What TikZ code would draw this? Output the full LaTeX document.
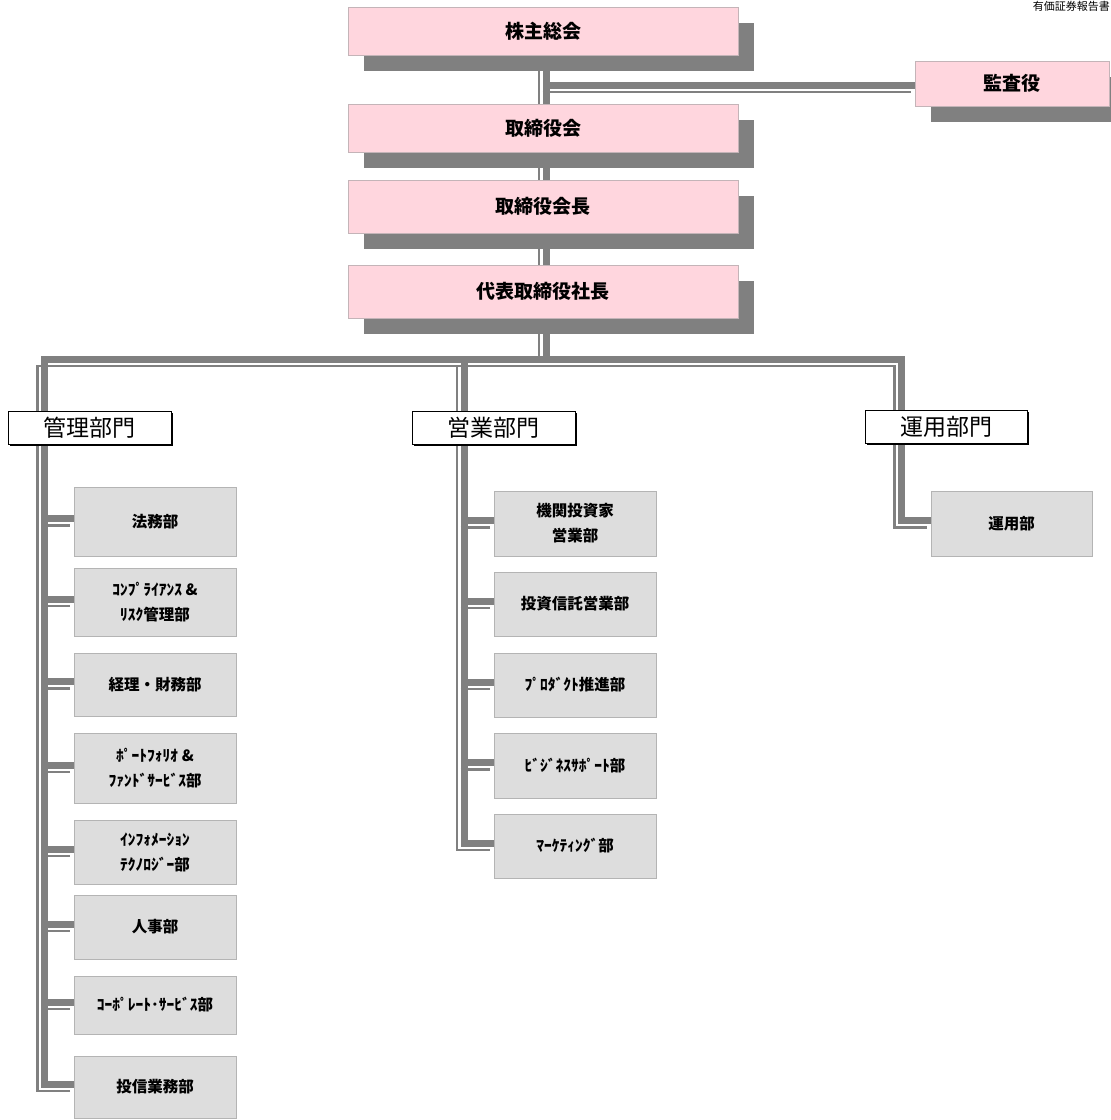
\documentclass[tikz,border=0pt]{standalone}
\usepackage{fontspec}
\setmainfont{Noto Sans CJK JP}
\usepackage{tikz}
\usetikzlibrary{positioning,shadows,backgrounds}

\definecolor{kpink}{RGB}{255,214,222}
\definecolor{kpinkline}{RGB}{196,180,184}
\definecolor{kshadow}{RGB}{128,128,128}
\definecolor{kgray}{RGB}{221,221,221}
\definecolor{kgrayline}{RGB}{180,180,180}

\begin{document}
\begin{tikzpicture}[x=1pt,y=-1pt,
    execbox/.style={rectangle, fill=kpink, draw=kpinkline, line width=0.8pt,
        minimum width=390pt, outer sep=0pt,
        font=\fontsize{19}{21}\selectfont\bfseries,
        drop shadow={shadow xshift=16pt, shadow yshift=-16pt, fill=kshadow, opacity=1}},
    divbox/.style={rectangle, fill=white, draw=black, line width=0.9pt,
        minimum width=163pt, minimum height=33pt, outer sep=0pt,
        font=\fontsize{23}{25}\selectfont,
        drop shadow={shadow xshift=1.5pt, shadow yshift=-1.5pt, fill=black, opacity=1}},
    deptbox/.style={rectangle, fill=kgray, draw=kgrayline, line width=1pt,
        minimum width=162pt, outer sep=0pt, align=center,
        font=\fontsize{15.5}{25}\selectfont\bfseries},
    wirethin/.style={draw=kshadow, line width=2.2pt, transform canvas={shift={(-4,4)}}},
    wirethick/.style={draw=kshadow, line width=7pt, transform canvas={shift={(3,-3)}}}]

    \useasboundingbox (0,0) rectangle (1111,1120);

    \node[anchor=north east, inner sep=0pt, font=\fontsize{11}{11}\selectfont] (header) at (1110,1) {有価証券報告書};

    % top of the company
    \node[execbox, minimum height=48pt] (kabunushi) at (543,31) {株主総会};
    \node[execbox, minimum width=194pt, minimum height=45pt] (kansa) at (1012,83.5) {監査役};
    \node[execbox, minimum height=48pt] (torishimari) at (543,128) {取締役会};
    \node[execbox, minimum height=53pt] (kaicho) at (543,206.5) {取締役会長};
    \node[execbox, minimum height=53pt] (shacho) at (543,291.5) {代表取締役社長};

    % divisions
    \node[divbox] (kanri) at (89.5,427.5) {管理部門};
    \node[divbox] (eigyo) at (493.5,427.5) {営業部門};
    \node[divbox, minimum width=162pt] (unyo) at (946,427) {運用部門};

    % kanri
    \node[deptbox, minimum height=69pt] (homu) at (155,521.5) {法務部};
    \node[deptbox, minimum height=68pt, below=12pt of homu] (compl) {ｺﾝﾌﾟﾗｲｱﾝｽ \&\\ﾘｽｸ管理部};
    \node[deptbox, minimum height=63pt, below=17pt of compl] (keiri) {経理・財務部};
    \node[deptbox, minimum height=70pt, below=17pt of keiri] (portf) {ﾎﾟｰﾄﾌｫﾘｵ \&\\ﾌｧﾝﾄﾞｻｰﾋﾞｽ部};
    \node[deptbox, minimum height=64pt, below=17pt of portf] (infotech) {ｲﾝﾌｫﾒｰｼｮﾝ\\ﾃｸﾉﾛｼﾞｰ部};
    \node[deptbox, minimum height=64pt, below=11pt of infotech] (jinji) {人事部};
    \node[deptbox, minimum height=58pt, below=17pt of jinji] (corp) {ｺｰﾎﾟﾚｰﾄ･ｻｰﾋﾞｽ部};
    \node[deptbox, minimum height=62pt, below=22pt of corp] (toushin) {投信業務部};

    % eigyo
    \node[deptbox, minimum height=65pt] (kikan) at (575,523.5) {機関投資家\\営業部};
    \node[deptbox, minimum height=64pt, below=16pt of kikan] (toushinei) {投資信託営業部};
    \node[deptbox, minimum height=64pt, below=17pt of toushinei] (product) {ﾌﾟﾛﾀﾞｸﾄ推進部};
    \node[deptbox, minimum height=65pt, below=16pt of product] (bizsup) {ﾋﾞｼﾞﾈｽｻﾎﾟｰﾄ部};
    \node[deptbox, minimum height=64pt, below=16pt of bizsup] (mkt) {ﾏｰｹﾃｨﾝｸﾞ部};

    % unyo
    \node[deptbox, minimum width=161pt, minimum height=65pt] (unyobu) at (1011.5,523.5) {運用部};

    \coordinate (trunk) at (543,359);
    \coordinate (kj) at (546.5,88);
    \coordinate (busL) at (41.5,362);
    \coordinate (busM) at (461,362);
    \coordinate (busR) at (898.5,362);
    \coordinate (stubL) at (45,0);
    \coordinate (stubM) at (464.5,0);

    \begin{scope}[on background layer]
        \foreach \s in {wirethin,wirethick} {
            \draw[\s] (kabunushi) -- (trunk);
            \draw[\s] (kj) -- (kj -| kansa.west);
            \draw[\s] (toushin.west) -- (busL |- toushin.west) -- (busL) -- (busR)
                -- (busR |- unyobu.west) -- (unyobu.west);
            \draw[\s] (busM) -- (busM |- mkt.west) -- (mkt.west);
            \foreach \b in {homu,compl,keiri,portf,infotech,jinji,corp}
                \draw[\s] (stubL |- \b.west) -- (\b.west);
            \foreach \b in {kikan,toushinei,product,bizsup}
                \draw[\s] (stubM |- \b.west) -- (\b.west);
        }
    \end{scope}
\end{tikzpicture}
\end{document}
